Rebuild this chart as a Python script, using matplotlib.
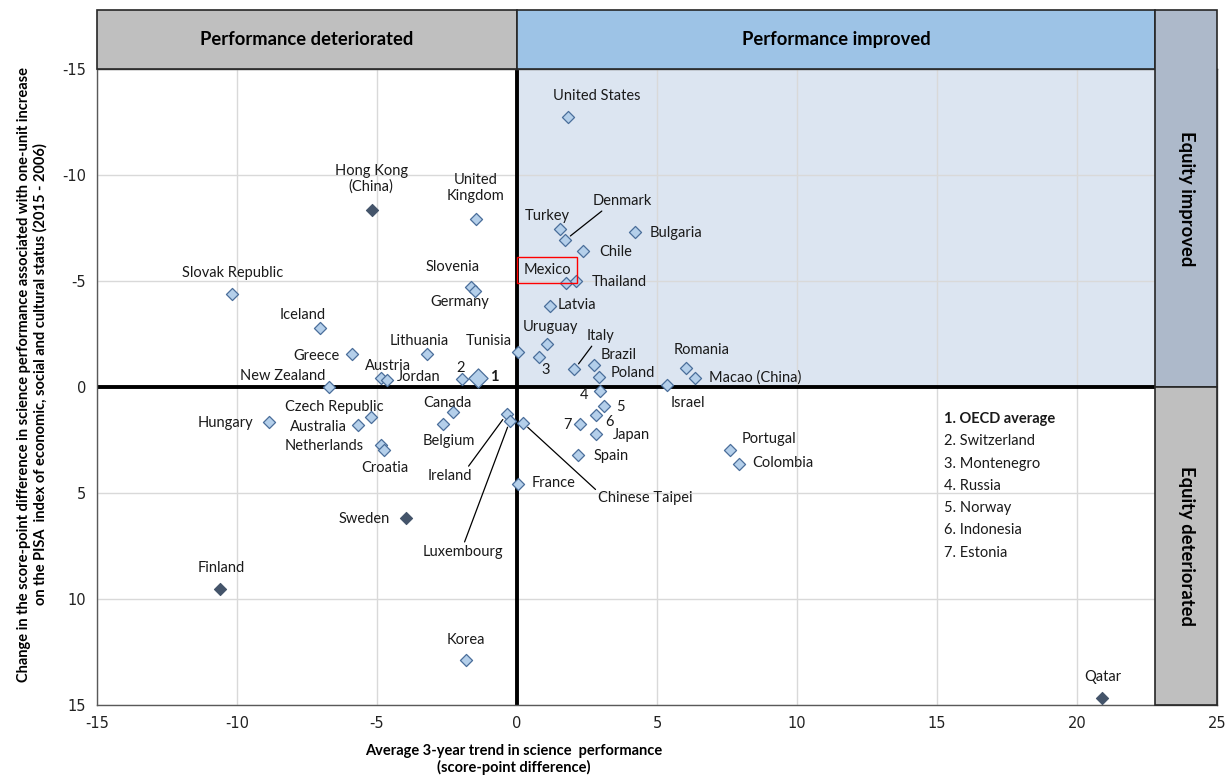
import matplotlib.pyplot as plt
from matplotlib.patches import Rectangle

plt.rcParams['font.family'] = ['Lato', 'DejaVu Sans']
plt.rcParams['axes.unicode_minus'] = False

# countries, their trend in performance (x) and change in ESCS slope (y)
countries = [
    "United States", "Hong Kong (China)", "United Kingdom", "Turkey", "Denmark",
    "Bulgaria", "Chile", "Mexico", "Thailand", "Latvia", "Slovak Republic",
    "Slovenia", "Germany", "Iceland", "Greece", "Lithuania", "Tunisia", "Uruguay",
    "Montenegro", "Italy", "Brazil", "Poland", "Romania", "Macao (China)",
    "Israel", "Austria", "Jordan", "Switzerland", "OECD average", "New Zealand",
    "Russia", "Norway", "Indonesia", "Estonia", "Japan", "Spain", "France",
    "Chinese Taipei", "Ireland", "Luxembourg", "Canada", "Belgium",
    "Czech Republic", "Australia", "Hungary", "Netherlands", "Croatia", "Sweden",
    "Finland", "Korea", "Portugal", "Colombia", "Qatar",
]
perf_trend = [
    1.83, -5.17, -1.48, 1.54, 1.71,
    4.21, 2.37, 1.75, 2.11, 1.18, -10.17,
    -1.65, -1.50, -7.04, -5.90, -3.20, 0.05, 1.06,
    0.79, 2.05, 2.75, 2.92, 6.04, 6.36,
    5.35, -4.87, -4.65, -1.95, -1.38, -6.70,
    2.95, 3.11, 2.83, 2.25, 2.83, 2.18, 0.04,
    0.20, -0.36, -0.25, -2.30, -2.65,
    -5.21, -5.69, -8.86, -4.86, -4.74, -3.95,
    -10.61, -1.83, 7.61, 7.94, 20.90,
]
equity_change = [
    -12.72, -8.35, -7.91, -7.45, -6.92,
    -7.30, -6.42, -4.89, -5.02, -3.82, -4.39,
    -4.70, -4.54, -2.77, -1.56, -1.56, -1.67, -2.01,
    -1.43, -0.83, -1.05, -0.49, -0.90, -0.44,
    -0.09, -0.42, -0.33, -0.38, -0.41, 0.01,
    0.19, 0.90, 1.34, 1.75, 2.23, 3.21, 4.59,
    1.68, 1.27, 1.59, 1.19, 1.75,
    1.40, 1.79, 1.65, 2.75, 2.97, 6.16,
    9.53, 12.88, 2.97, 3.65, 14.65,
]
# not significant changes are drawn dark
dark = ["Hong Kong (China)", "Sweden", "Finland", "Qatar"]
numbered = ["OECD average", "Switzerland", "Montenegro", "Russia",
            "Norway", "Indonesia", "Estonia"]

x_ticks = [-15, -10, -5, 0, 5, 10, 15, 20, 25]
y_ticks = [-15, -10, -5, 0, 5, 10, 15]

# label offsets in pixels (dx, dy up) from each point
offsets = {
    "United States": (28, 21), "Hong Kong (China)": (-1, 31),
    "United Kingdom": (0, 31), "Turkey": (-13, 13), "Denmark": (57, 39),
    "Bulgaria": (41, -1), "Chile": (32, -1), "Mexico": (-19, 13),
    "Thailand": (43, -1), "Latvia": (27, 1), "Slovak Republic": (0, 21),
    "Slovenia": (-18, 20), "Germany": (-15, -11), "Iceland": (-17, 13),
    "Greece": (-35, -2), "Lithuania": (-8, 13), "Tunisia": (-30, 11),
    "Uruguay": (4, 17), "Montenegro": (7, -13), "Italy": (26, 33),
    "Brazil": (25, 10), "Poland": (34, 4), "Romania": (16, 18),
    "Macao (China)": (60, 0), "Israel": (21, -18), "Austria": (7, 12),
    "Jordan": (32, 3), "Switzerland": (-2, 11), "OECD average": (16, 1),
    "New Zealand": (-47, 11), "Russia": (-16, -4), "Norway": (16, -1),
    "Indonesia": (13, -7), "Estonia": (-13, -1), "Japan": (35, -1),
    "Spain": (33, -1), "France": (35, 1), "Chinese Taipei": (123, -75),
    "Ireland": (-57, -62), "Luxembourg": (-47, -131), "Canada": (-5, 9),
    "Belgium": (6, -17), "Czech Republic": (-37, 10), "Australia": (-39, -2),
    "Hungary": (-44, -1), "Netherlands": (-57, -1), "Croatia": (1, -18),
    "Sweden": (-42, -1), "Finland": (1, 21), "Korea": (0, 20),
    "Portugal": (39, 11), "Colombia": (44, 1), "Qatar": (1, 21),
}
# leader lines: where on the text box the line starts
leaders = {"Denmark": (0.25, 0.1), "Italy": (0.3, 0.1), "Ireland": (0.85, 0.9),
           "Luxembourg": (0.5, 0.9), "Chinese Taipei": (0.0, 0.9)}

fig = plt.figure(figsize=(12.3, 7.76), dpi=100)
ax = fig.add_axes([0.0789, 0.0915, 0.9105, 0.8196])
ax.set_xlim(-15, 25)
ax.set_ylim(15, -15)

# improved quadrant shading
ax.add_patch(Rectangle((0, -15), 22.79, 15, fc="#DCE5F1", ec="none", zorder=0))
ax.set_xticks(x_ticks)
ax.set_yticks(y_ticks)
ax.grid(color="#D9D9D9", lw=1, zorder=1)
ax.set_axisbelow(True)
ax.axvline(0, color="black", lw=2.8, zorder=2)
ax.plot([-15, 22.79], [0, 0], color="black", lw=2.8, zorder=2)
for s in ax.spines.values():
    s.set_color("#595959")
    s.set_linewidth(1)
ax.tick_params(length=0, labelsize=10.5, colors="#222222", pad=8)
for lab in ax.get_xticklabels() + ax.get_yticklabels():
    lab.set_fontfamily("DejaVu Sans")

# header band and right strip
top = -17.78
hdr = dict(clip_on=False, zorder=5, lw=1.2, ec="#262626")
ax.add_patch(Rectangle((-15, top), 15, 2.78, fc="#BFBFBF", **hdr))
ax.add_patch(Rectangle((0, top), 22.79, 2.78, fc="#9DC3E6", **hdr))
ax.add_patch(Rectangle((22.79, top), 2.21, -top, fc="#ADB9CA", **hdr))
ax.add_patch(Rectangle((22.79, 0), 2.21, 15, fc="#BFBFBF", **hdr))
ax.text(-7.5, (top - 15) / 2, "Performance deteriorated", ha="center",
        va="center", fontsize=13.2, fontweight="bold", zorder=6)
ax.text(11.4, (top - 15) / 2, "Performance improved", ha="center",
        va="center", fontsize=13.2, fontweight="bold", zorder=6)
ax.text(23.9, top / 2, "Equity improved", rotation=-90, ha="center",
        va="center", fontsize=13.2, fontweight="bold", zorder=6)
ax.text(23.9, 7.5, "Equity deteriorated", rotation=-90, ha="center",
        va="center", fontsize=13.2, fontweight="bold", zorder=6)

for name, xv, yv in zip(countries, perf_trend, equity_change):
    if name in dark:
        ax.scatter(xv, yv, marker="D", s=38, c="#44546A", ec="#44546A",
                   lw=0.8, zorder=4)
    elif name == "OECD average":
        ax.scatter(xv, yv, marker="D", s=95, c="#B4CFEA", ec="#4A6E9A",
                   lw=0.9, zorder=4)
    else:
        ax.scatter(xv, yv, marker="D", s=38, c="#B4CFEA", ec="#4A6E9A",
                   lw=0.9, zorder=4)

    label = name.replace("Hong Kong (China)", "Hong Kong\n(China)")
    label = label.replace("United Kingdom", "United\nKingdom")
    weight = "normal"
    if name in numbered:
        label = str(numbered.index(name) + 1)
        if name == "OECD average":
            weight = "bold"
    kw = dict(xy=(xv, yv), xytext=offsets[name], textcoords="offset pixels",
              ha="center", va="center", fontsize=10.5, fontweight=weight,
              color="#1a1a1a", linespacing=1.15, zorder=5)
    if name in leaders:
        kw["arrowprops"] = dict(arrowstyle="-", color="black", lw=0.9,
                                relpos=leaders[name], shrinkA=0, shrinkB=5)
    if name == "Mexico":
        kw["bbox"] = dict(boxstyle="square,pad=0.42", fc="none", ec="red", lw=1)
    ax.annotate(label, **kw)

# key for the numbered points
for i, name in enumerate(numbered):
    ax.text(15.25, 1.51 + i * 1.05, f"{i + 1}. {name}", ha="left",
            va="center", fontsize=10.5, fontweight="bold" if i == 0 else "normal",
            color="#1a1a1a", zorder=5)

ax.set_xlabel("Average 3-year trend in science  performance\n(score-point difference)",
              fontsize=10.5, fontweight="bold", labelpad=9, x=0.372)
ax.set_ylabel("Change in the score-point difference in science performance associated "
              "with one-unit increase\non the PISA  index of economic, social and "
              "cultural status (2015 - 2006)",
              fontsize=10.5, fontweight="bold", labelpad=10, y=0.52)

fig.savefig("out.png", dpi=100)
